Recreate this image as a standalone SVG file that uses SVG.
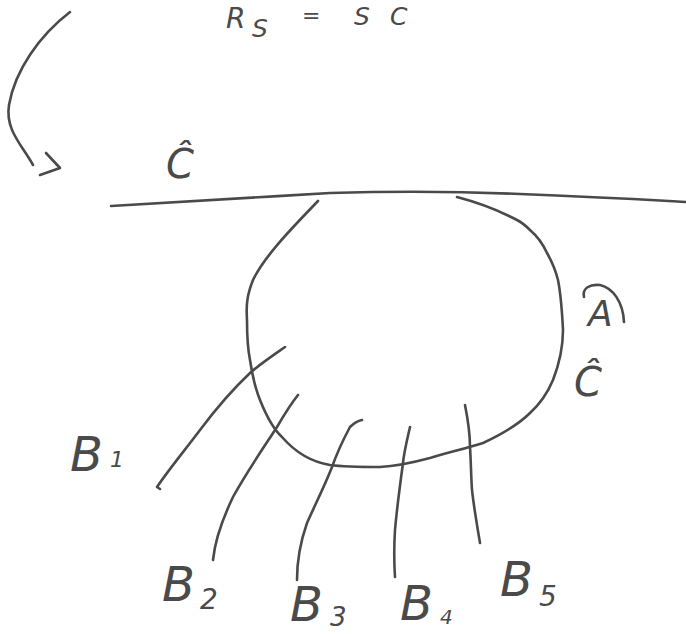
<svg xmlns="http://www.w3.org/2000/svg" width="686" height="635" viewBox="0 0 686 635">
<style>
.s{fill:none;stroke:#4a4a4a;stroke-width:2.6;stroke-linecap:round;stroke-linejoin:round}
.t{fill:#4a4a4a;font-family:"DejaVu Sans",sans-serif;font-style:italic}
</style>
<rect width="686" height="635" fill="#ffffff"/>
<g id="formula">
<text class="t" x="226" y="28" font-size="28">R</text>
<text class="t" x="252" y="37" font-size="25">S</text>
<text class="t" x="302" y="23" font-size="22">=</text>
<text class="t" x="354" y="25" font-size="25">S</text>
<text class="t" x="390" y="25" font-size="25">C</text>
</g>
<g id="connectors">
<path class="s" d="M70 12 C40 35 15 70 9 105 C5 130 22 145 33 165"/>
<path class="s" d="M46 153 L60 168 L40 175"/>
</g>
<g id="label-top">
<text class="t" x="166" y="178" font-size="40">Ĉ</text>
</g>
<g id="line">
<path class="s" d="M111 206 C200 201 260 197 330 193 C400 191 450 191 520 194 C600 197 650 200 686 202"/>
</g>
<g id="circle">
<path class="s" d="M318 201 C295 225 265 255 253 280 C247 295 246 305 247 320 C247 340 248 350 250 360 C253 380 256 390 260 400 C266 415 272 428 282 437 C295 452 312 462 330 465 C345 467 365 467 380 467 C400 466 415 462 430 458 C450 452 468 448 483 443 C500 435 518 425 530 413 C542 402 548 392 553 380 C560 362 563 345 563 330 C562 310 561 295 558 280 C555 268 551 260 547 253 C542 242 537 236 530 230 C525 225 521 222 517 220 C500 211 480 203 457 197"/>
</g>
<g id="strokes">
<path class="s" d="M285 347 C272 356 260 364 250 373 C232 390 215 410 200 430 C185 450 170 468 157 487 L160 489"/>
<path class="s" d="M298 395 C290 405 284 415 277 427 C262 450 246 473 233 497 C222 520 215 540 213 560"/>
<path class="s" d="M362 420 C357 421 353 424 350 427 C343 440 337 453 332 467 C325 485 315 505 307 523 C300 543 297 562 297 580"/>
<path class="s" d="M410 427 C407 440 404 452 403 463 C400 485 397 507 395 530 C394 546 394 562 395 577"/>
<path class="s" d="M465 405 C468 420 470 433 470 447 C471 462 471 476 472 490 C474 508 477 525 480 543"/>
</g>
<g id="label-A">
<path class="s" d="M584 297 C582 288 590 284 600 285 C613 288 623 302 624 322"/>
<text class="t" x="588" y="326" font-size="36">A</text>
</g>
<g id="label-C">
<text class="t" x="574" y="396" font-size="40">Ĉ</text>
</g>
<g id="label-B1"><text class="t" x="70" y="471" font-size="48">B</text><text class="t" x="110" y="467" font-size="22">1</text></g>
<g id="label-B2"><text class="t" x="162" y="601" font-size="48">B</text><text class="t" x="200" y="609" font-size="28">2</text></g>
<g id="label-B3"><text class="t" x="290" y="621" font-size="48">B</text><text class="t" x="330" y="626" font-size="26">3</text></g>
<g id="label-B4"><text class="t" x="400" y="620" font-size="48">B</text><text class="t" x="440" y="624" font-size="20">4</text></g>
<g id="label-B5"><text class="t" x="500" y="596" font-size="48">B</text><text class="t" x="539" y="606" font-size="28">5</text></g>
</svg>
